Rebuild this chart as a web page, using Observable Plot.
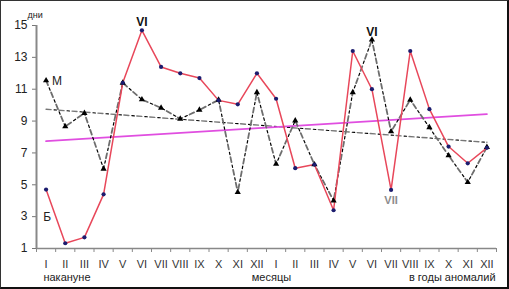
<!DOCTYPE html>
<html><head><meta charset="utf-8">
<script src="https://cdn.jsdelivr.net/npm/d3@7"></script>
<script src="https://cdn.jsdelivr.net/npm/@observablehq/plot@0.6"></script>
<style>
body{margin:0;background:#fff;}
#wrap{position:relative;width:509px;height:289px;overflow:hidden;background:#fff;}
#border{position:absolute;left:0;top:0;width:509px;height:289px;box-sizing:border-box;border:1px solid #333;border-right:2px solid #111;border-bottom:2px solid #111;pointer-events:none;}
</style></head><body>
<div id="wrap"><div id="border"></div></div>
<script>
// Month labels (roman numerals), repeated for the two periods
const months = ["I","II","III","IV","V","VI","VII","VIII","IX","X","XI","XII"];
const xLabels = [...months, ...months];
const periodLabels = ["накануне", "месяцы", "в годы аномалий"];
const seriesNames = ["Б", "М"];
const yUnit = "дни";
const yTicks = [1, 3, 5, 7, 9, 11, 13, 15];

// Series Б (red line, circles)
const seriesB = [4.7, 1.33, 1.7, 4.4, 11.4, 14.7, 12.4, 12.0, 11.7, 10.3, 10.05, 12.0,
                 10.4, 6.04, 6.27, 3.4, 13.4, 11.0, 4.68, 13.4, 9.75, 7.4, 6.35, 7.32];
// Series М (black dash-dot line, triangles)
const seriesM = [11.55, 8.66, 9.5, 6.0, 11.4, 10.35, 9.83, 9.14, 9.7, 10.33, 4.53, 10.8,
                 6.3, 9.03, 6.27, 4.0, 10.8, 14.1, 8.34, 10.33, 8.6, 6.84, 5.16, 7.36];

const idx = xLabels.map((_, i) => i + 1);
const dataB = idx.map((x, i) => ({x, y: seriesB[i]}));
const dataM = idx.map((x, i) => ({x, y: seriesM[i]}));
const boundaries = d3.range(0.5, 25, 1);

const peakB = 5, peakM = 17, lowB = 18;

// dash-dot: long gray dash + short black dash
const longDash = {strokeDasharray: "5,8"};
const shortDash = {strokeDasharray: "2.5,10.5", strokeDashoffset: 5};

const plot = Plot.plot({
  width: 509, height: 289,
  marginLeft: 36, marginRight: 13, marginTop: 25, marginBottom: 41,
  style: {fontFamily: "Arial, 'Liberation Sans', sans-serif", background: "transparent", overflow: "visible"},
  x: {type: "linear", domain: [0.5, 24.5]},
  y: {domain: [1, 15]},
  marks: [
    Plot.axisY(yTicks, {tickSize: 4, tickPadding: 5, fontSize: 12, stroke: "#777", fill: "#222", label: null}),
    Plot.axisX(boundaries, {tickSize: 4, tickFormat: () => "", stroke: "#888", label: null}),
    Plot.axisX(idx, {tickSize: 0, tickPadding: 12, fontSize: 11, fill: "#333", tickFormat: d => xLabels[d - 1], label: null}),
    Plot.ruleX([0.5], {y1: 1, y2: 15, stroke: "#888", strokeWidth: 2}),
    Plot.ruleY([1], {x1: 0.5, x2: 24.5, stroke: "#888", strokeWidth: 1.5}),
    Plot.text([yUnit], {frameAnchor: "top-left", textAnchor: "start", lineAnchor: "middle", dx: -9, dy: -10, fontSize: 9, fill: "#222"}),
    Plot.text([periodLabels[0]], {x: [0.86], frameAnchor: "bottom", textAnchor: "start", lineAnchor: "middle", dy: 29, fontSize: 11, fill: "#222"}),
    Plot.text([periodLabels[1]], {x: [12.76], frameAnchor: "bottom", textAnchor: "middle", lineAnchor: "middle", dy: 29, fontSize: 11, fill: "#222"}),
    Plot.text([periodLabels[2]], {x: [24.45], frameAnchor: "bottom", textAnchor: "end", lineAnchor: "middle", dy: 29, fontSize: 11, fill: "#222"}),
    // trend lines
    Plot.linearRegressionY(dataM, {x: "x", y: "y", ci: 0, stroke: "#777", strokeWidth: 1.4, ...longDash}),
    Plot.linearRegressionY(dataM, {x: "x", y: "y", ci: 0, stroke: "#000", strokeWidth: 1.1, ...shortDash}),
    Plot.linearRegressionY(dataB, {x: "x", y: "y", ci: 0, stroke: "#e04ee0", strokeWidth: 1.8}),
    // series lines
    Plot.line(dataM, {x: "x", y: "y", stroke: "#6e6e6e", strokeWidth: 1.8, ...longDash}),
    Plot.line(dataM, {x: "x", y: "y", stroke: "#000", strokeWidth: 1.2, ...shortDash}),
    Plot.line(dataB, {x: "x", y: "y", stroke: "#e8475a", strokeWidth: 1.5}),
    Plot.dot(dataM, {x: "x", y: "y", symbol: "triangle", r: 2.3, fill: "#000", stroke: "none"}),
    Plot.dot(dataB, {x: "x", y: "y", r: 2.1, fill: "#1c1c6e", stroke: "none"}),
    // annotations
    Plot.text([peakB], {x: i => i + 1, y: i => seriesB[i], text: i => xLabels[i], dy: -8, lineAnchor: "middle", fontWeight: "bold", fontSize: 12, fill: "#111"}),
    Plot.text([peakM], {x: i => i + 1, y: i => seriesM[i], text: i => xLabels[i], dy: -8, lineAnchor: "middle", fontWeight: "bold", fontSize: 12, fill: "#111"}),
    Plot.text([lowB], {x: i => i + 1, y: i => seriesB[i], text: i => xLabels[i], dy: 11, lineAnchor: "middle", fontWeight: "bold", fontSize: 11, fill: "#8c8c8c"}),
    Plot.text([0], {x: i => i + 1, y: i => seriesM[i], text: () => seriesNames[1], dx: 6, dy: 1, textAnchor: "start", lineAnchor: "middle", fontSize: 12, fill: "#222"}),
    Plot.text([0], {x: i => i + 1, y: i => seriesB[i], text: () => seriesNames[0], dx: 1, dy: 28, lineAnchor: "middle", fontSize: 12, fill: "#222"})
  ]
});
document.getElementById("wrap").insertBefore(plot, document.getElementById("border"));
</script>
</body></html>
